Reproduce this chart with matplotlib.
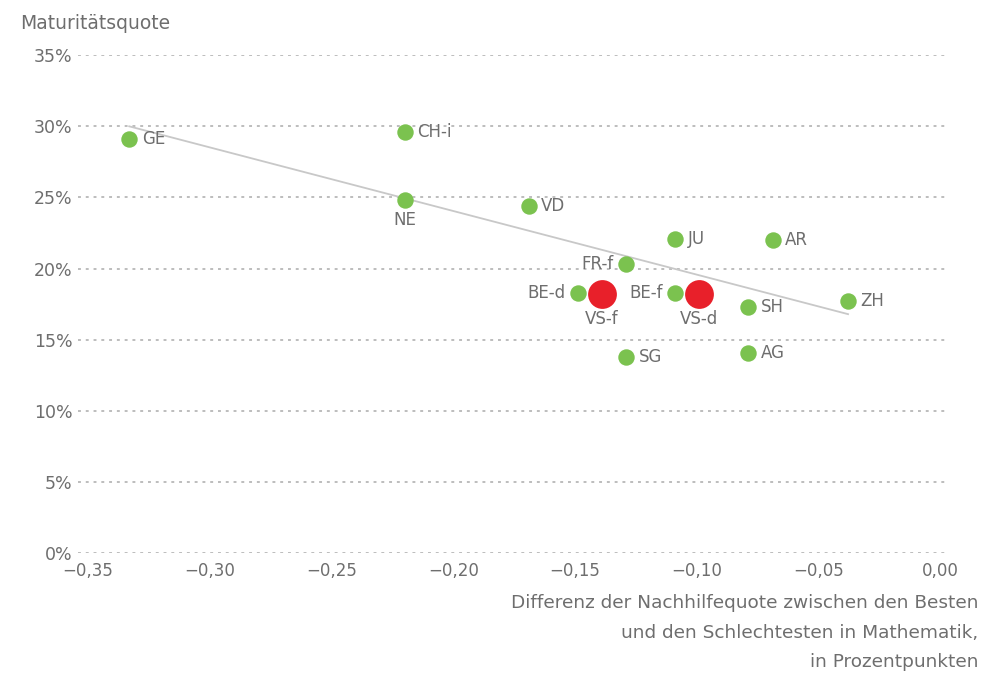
import matplotlib.pyplot as plt
from matplotlib.ticker import FuncFormatter

plt.rcParams['font.family'] = ['DejaVu Sans']

# Kantone: Differenz der Nachhilfequote / Maturitaetsquote
cantons = ["GE", "CH-i", "NE", "VD", "JU", "AR", "FR-f", "BE-d", "BE-f", "SH", "ZH", "SG", "AG"]
diff = [-0.333, -0.220, -0.220, -0.169, -0.109, -0.069, -0.129, -0.149, -0.109, -0.079, -0.038, -0.129, -0.079]
quote = [29.1, 29.6, 24.8, 24.4, 22.1, 22.0, 20.3, 18.3, 18.3, 17.3, 17.7, 13.8, 14.1]
label_pos = ["right", "right", "below", "right", "right", "right", "left", "left", "left", "right", "right", "right", "right"]

# Wallis hervorgehoben
vs_names = ["VS-f", "VS-d"]
vs_diff = [-0.139, -0.099]
vs_quote = [18.2, 18.2]

# Trendlinie (Endpunkte)
trend_x = [-0.333, -0.038]
trend_y = [30.0, 16.8]

green = "#7bc24f"
red = "#e8202a"
txt = "#6e6e6e"

fig = plt.figure(figsize=(9.88, 6.73), dpi=100)
ax = fig.add_axes([0.079, 0.178, 0.878, 0.74])

ax.plot(trend_x, trend_y, color="#c8c8c8", lw=1.3, zorder=2)
ax.scatter(diff, quote, s=140, color=green, zorder=3, linewidths=0)
ax.scatter(vs_diff, vs_quote, s=430, color=red, zorder=4, linewidths=0)

for name, x, y, pos in zip(cantons, diff, quote, label_pos):
    if pos == "right":
        ax.annotate(name, (x, y), xytext=(9, 0), textcoords="offset points",
                    ha="left", va="center", color=txt, fontsize=12)
    elif pos == "left":
        ax.annotate(name, (x, y), xytext=(-9, 0), textcoords="offset points",
                    ha="right", va="center", color=txt, fontsize=12)
    else:
        ax.annotate(name, (x, y), xytext=(0, -8), textcoords="offset points",
                    ha="center", va="top", color=txt, fontsize=12)

for name, x, y in zip(vs_names, vs_diff, vs_quote):
    ax.annotate(name, (x, y), xytext=(0, -11), textcoords="offset points",
                ha="center", va="top", color=txt, fontsize=12)

ax.set_xlim(-0.354, 0.002)
ax.set_ylim(0, 35)
ax.set_xticks([-0.35, -0.30, -0.25, -0.20, -0.15, -0.10, -0.05, 0.0])
ax.set_yticks([0, 5, 10, 15, 20, 25, 30, 35])
ax.xaxis.set_major_formatter(FuncFormatter(lambda v, p: ("\u2212" if v < -1e-9 else "") + f"{abs(v):.2f}".replace(".", ",")))
ax.yaxis.set_major_formatter(FuncFormatter(lambda v, p: f"{v:.0f}%"))
ax.tick_params(length=0, colors=txt, labelsize=12, pad=6)
ax.tick_params(axis="y", pad=4, labelsize=12.5)
ax.grid(axis="y", color="#bdbdbd", linestyle=(0, (1.5, 2.5)), lw=1.4)
ax.set_axisbelow(True)
for s in ax.spines.values():
    s.set_visible(False)

fig.text(0.02, 0.965, "Maturitätsquote", color=txt, fontsize=13.5, ha="left", va="center")
xlabel_lines = ["Differenz der Nachhilfequote zwischen den Besten",
                "und den Schlechtesten in Mathematik,",
                "in Prozentpunkten"]
for i, line in enumerate(xlabel_lines):
    fig.text(0.99, 0.104 - i * 0.044, line, color=txt, fontsize=13.3, ha="right", va="center")

fig.savefig("out.png", dpi=100, facecolor="white")
